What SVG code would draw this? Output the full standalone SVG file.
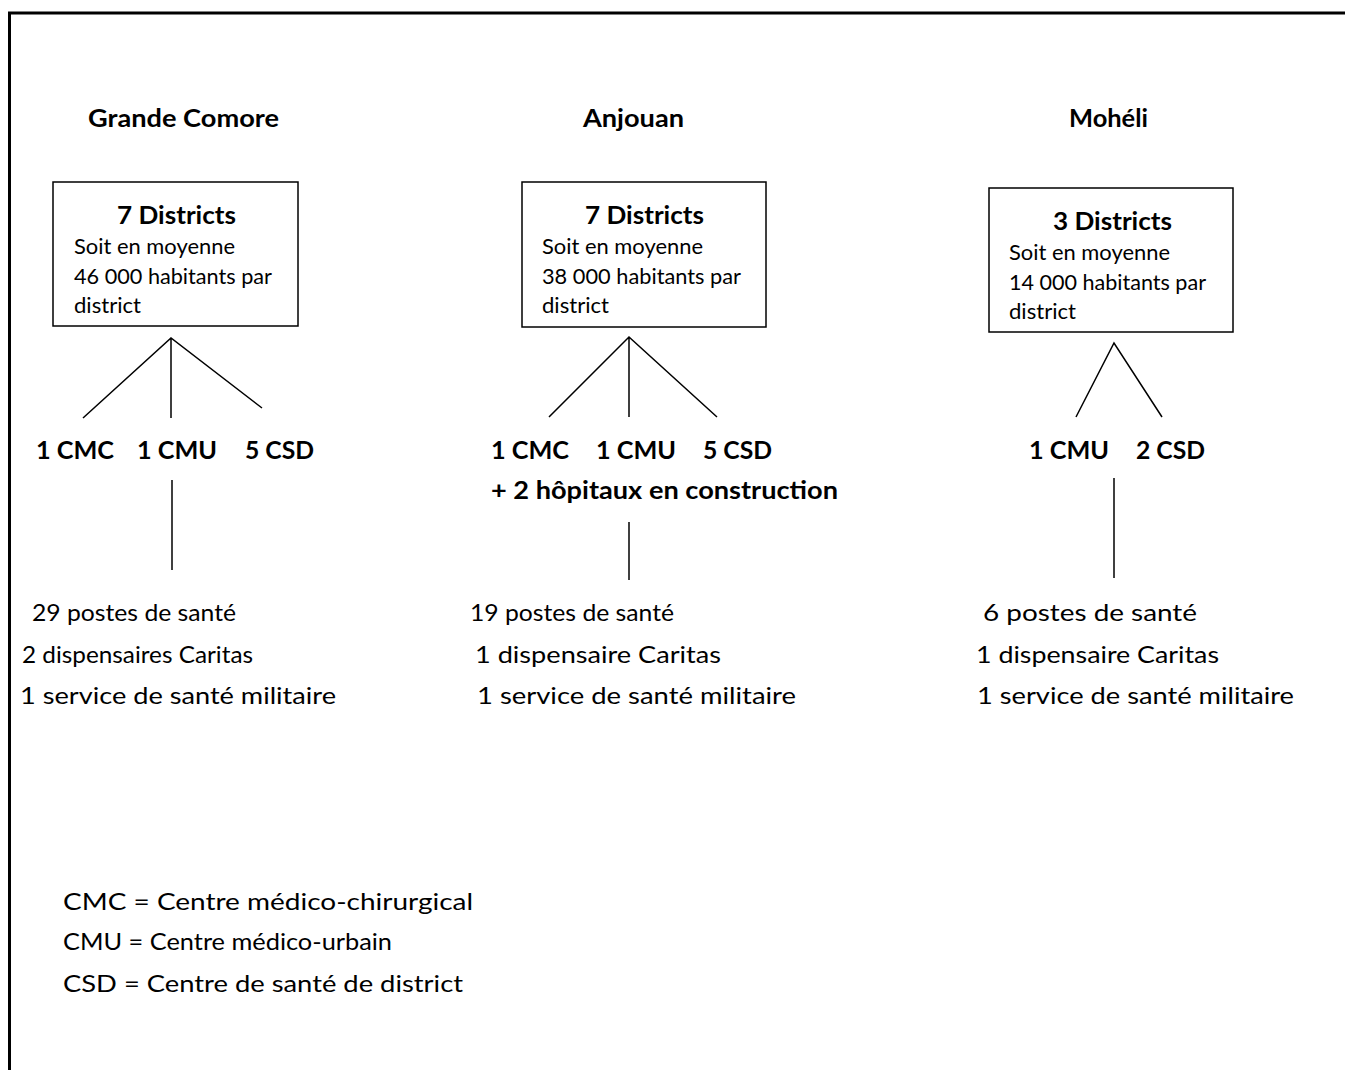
<svg xmlns="http://www.w3.org/2000/svg" width="1345" height="1070" viewBox="0 0 1345 1070">
<style>
text{font-family:Lato,"Open Sans","Liberation Sans",sans-serif;fill:#000}
.t{font-size:25px;font-weight:bold}
.b{font-size:21px}
.l{font-size:23px}
.box{fill:#fff;stroke:#000;stroke-width:1.5}
.ln{stroke:#000;stroke-width:1.5;fill:none}
</style>
<rect x="0" y="0" width="1345" height="1070" fill="#fff"/>
<path d="M9.5,1072 V13 H1347" fill="none" stroke="#000" stroke-width="3"/>
<g id="title-gc"><text class="t" x="88" y="127" textLength="191" lengthAdjust="spacingAndGlyphs">Grande Comore</text></g>
<g id="title-anjouan"><text class="t" x="583" y="127" textLength="101" lengthAdjust="spacingAndGlyphs">Anjouan</text></g>
<g id="title-moheli"><text class="t" x="1069" y="127" textLength="79" lengthAdjust="spacingAndGlyphs">Mohéli</text></g>
<g id="box-gc">
<rect class="box" x="53" y="182" width="245" height="144"/>
<text class="t" x="117" y="224" textLength="119" lengthAdjust="spacingAndGlyphs">7 Districts</text>
<text class="b" x="74" y="254" textLength="161" lengthAdjust="spacingAndGlyphs">Soit en moyenne</text>
<text class="b" x="74" y="284" textLength="198" lengthAdjust="spacingAndGlyphs">46 000 habitants par</text>
<text class="b" x="74" y="313" textLength="67" lengthAdjust="spacingAndGlyphs">district</text>
</g>
<g id="box-anjouan">
<rect class="box" x="522" y="182" width="244" height="145"/>
<text class="t" x="585" y="224" textLength="119" lengthAdjust="spacingAndGlyphs">7 Districts</text>
<text class="b" x="542" y="254" textLength="161" lengthAdjust="spacingAndGlyphs">Soit en moyenne</text>
<text class="b" x="542" y="284" textLength="199" lengthAdjust="spacingAndGlyphs">38 000 habitants par</text>
<text class="b" x="542" y="313" textLength="67" lengthAdjust="spacingAndGlyphs">district</text>
</g>
<g id="box-moheli">
<rect class="box" x="989" y="188" width="244" height="144"/>
<text class="t" x="1053" y="230" textLength="119" lengthAdjust="spacingAndGlyphs">3 Districts</text>
<text class="b" x="1009" y="260" textLength="161" lengthAdjust="spacingAndGlyphs">Soit en moyenne</text>
<text class="b" x="1009" y="290" textLength="197" lengthAdjust="spacingAndGlyphs">14 000 habitants par</text>
<text class="b" x="1009" y="319" textLength="67" lengthAdjust="spacingAndGlyphs">district</text>
</g>
<g id="connectors">
<path class="ln" d="M83,418 L171,338 L262,408 M171,338 V418"/>
<path class="ln" d="M549,417 L629,337 L717,417 M629,337 V417"/>
<path class="ln" d="M1076,417 L1114,343 L1162,417"/>
<path class="ln" d="M172,480 V570"/>
<path class="ln" d="M629,522 V580"/>
<path class="ln" d="M1114,478 V578"/>
</g>
<g id="level-gc">
<text class="t" x="36" y="459" textLength="78" lengthAdjust="spacingAndGlyphs">1 CMC</text>
<text class="t" x="137" y="459" textLength="80" lengthAdjust="spacingAndGlyphs">1 CMU</text>
<text class="t" x="245" y="459" textLength="69" lengthAdjust="spacingAndGlyphs">5 CSD</text>
</g>
<g id="level-anjouan">
<text class="t" x="491" y="459" textLength="78" lengthAdjust="spacingAndGlyphs">1 CMC</text>
<text class="t" x="596" y="459" textLength="80" lengthAdjust="spacingAndGlyphs">1 CMU</text>
<text class="t" x="703" y="459" textLength="69" lengthAdjust="spacingAndGlyphs">5 CSD</text>
<text class="t" x="491" y="499" textLength="347" lengthAdjust="spacingAndGlyphs">+ 2 hôpitaux en construction</text>
</g>
<g id="level-moheli">
<text class="t" x="1029" y="459" textLength="80" lengthAdjust="spacingAndGlyphs">1 CMU</text>
<text class="t" x="1136" y="459" textLength="69" lengthAdjust="spacingAndGlyphs">2 CSD</text>
</g>
<g id="list-gc">
<text class="l" x="32" y="621" textLength="204" lengthAdjust="spacingAndGlyphs">29 postes de santé</text>
<text class="l" x="22" y="663" textLength="231" lengthAdjust="spacingAndGlyphs">2 dispensaires Caritas</text>
<text class="l" x="20" y="704" textLength="316" lengthAdjust="spacingAndGlyphs">1 service de santé militaire</text>
</g>
<g id="list-anjouan">
<text class="l" x="470" y="621" textLength="204" lengthAdjust="spacingAndGlyphs">19 postes de santé</text>
<text class="l" x="475" y="663" textLength="246" lengthAdjust="spacingAndGlyphs">1 dispensaire Caritas</text>
<text class="l" x="477" y="704" textLength="319" lengthAdjust="spacingAndGlyphs">1 service de santé militaire</text>
</g>
<g id="list-moheli">
<text class="l" x="983" y="621" textLength="214" lengthAdjust="spacingAndGlyphs">6  postes de santé</text>
<text class="l" x="976" y="663" textLength="243" lengthAdjust="spacingAndGlyphs">1 dispensaire Caritas</text>
<text class="l" x="977" y="704" textLength="317" lengthAdjust="spacingAndGlyphs">1 service de santé militaire</text>
</g>
<g id="legend">
<text class="l" x="63" y="910" textLength="410" lengthAdjust="spacingAndGlyphs">CMC  = Centre médico-chirurgical</text>
<text class="l" x="63" y="950" textLength="329" lengthAdjust="spacingAndGlyphs">CMU = Centre médico-urbain</text>
<text class="l" x="63" y="992" textLength="400" lengthAdjust="spacingAndGlyphs">CSD = Centre de santé de district</text>
</g>
</svg>
